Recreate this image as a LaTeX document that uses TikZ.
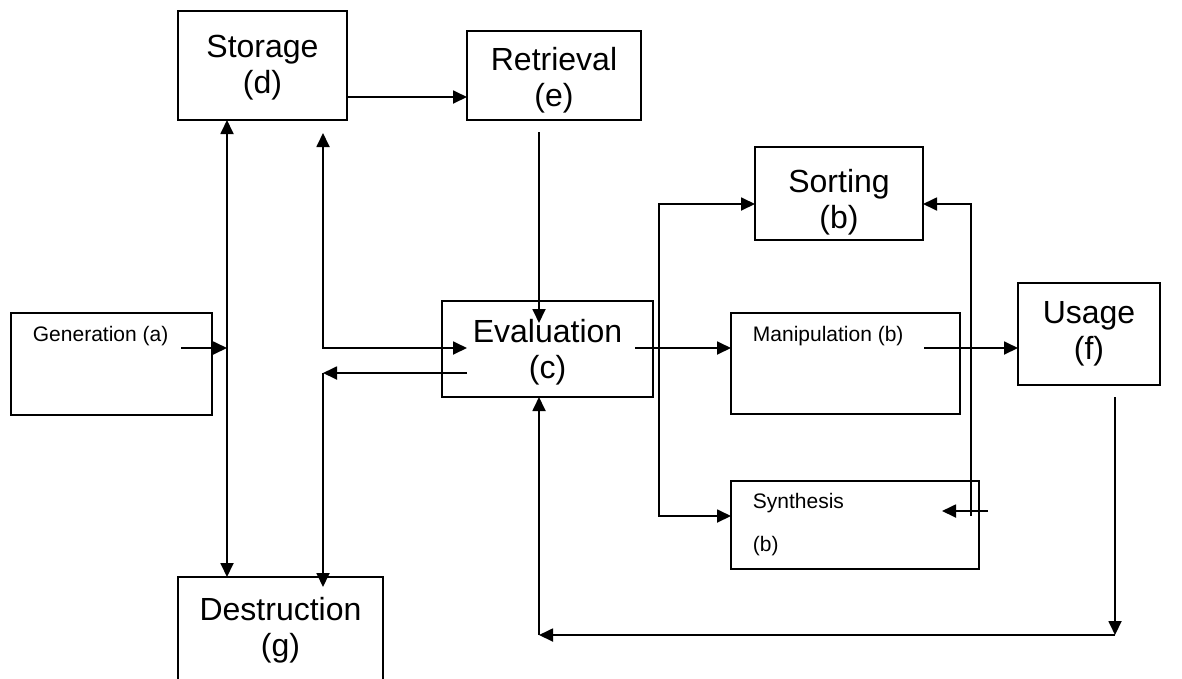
\documentclass[tikz,border=0pt]{standalone}
\usepackage{fontspec}
\setmainfont{Liberation Sans}
\usetikzlibrary{arrows.meta}
\begin{document}
\begin{tikzpicture}[x=1pt,y=-1pt,
  line width=1.8pt,
  box/.style={draw, line width=1.8pt, inner sep=0pt, outer sep=0pt, align=center,
    font=\fontsize{32}{36}\selectfont},
  small/.style={inner sep=0pt, anchor=west, font=\fontsize{21}{25}\selectfont},
  arr/.style={-{Triangle[length=14pt,width=13pt]}},
  arrb/.style={{Triangle[length=14pt,width=13pt]}-{Triangle[length=14pt,width=13pt]}},
]
\useasboundingbox (0,0) rectangle (1182,678);
\clip (0,0) rectangle (1182,678);

% boxes
\node[box, minimum width=169pt, minimum height=109pt, text height=63.5pt] (stor)  at (262.5,65.5) {Storage\\(d)};
\node[box, minimum width=174pt, minimum height=89pt, text height=68.5pt]  (retr)  at (554,75.5)   {Retrieval\\(e)};
\node[box, minimum width=168pt, minimum height=93pt, text height=77pt]  (sort)  at (839,193.5)  {Sorting\\(b)};
\node[box, minimum width=201pt, minimum height=102pt] (gen)   at (111.5,364)  {};
\node[box, minimum width=211pt, minimum height=96pt, text height=66pt]  (eval)  at (547.5,349)  {Evaluation\\(c)};
\node[box, minimum width=229pt, minimum height=101pt] (manip) at (845.5,363.5) {};
\node[box, minimum width=142pt, minimum height=102pt] (usage) at (1089,334)   {Usage\\(f)};
\node[box, minimum width=248pt, minimum height=88pt]  (synth) at (855,525)    {};
\node[box, minimum width=205pt, minimum height=110pt, text height=56pt] (dest)  at (280.5,632)  {Destruction\\(g)};

% small texts
\node[small] (genT) at (32,336)  {Generation (a)};
\node[small] (manT) at (752,336) {Manipulation (b)};
\node[small] (synT) at (752,503) {Synthesis};
\node[small] (synB) at (752,546) {(b)};

% lanes and levels
\coordinate (LA) at (227,0);
\coordinate (LB) at (323,0);
\coordinate (LC) at (539,0);
\coordinate (LD) at (659,0);
\coordinate (LE) at (971,0);
\coordinate (LF) at (1115,0);
\coordinate (HA) at (0,97);
\coordinate (HB) at (0,348);
\coordinate (HC) at (0,373);
\coordinate (HD) at (0,204);
\coordinate (HE) at (0,516);
\coordinate (HF) at (0,511);
\coordinate (HG) at (0,635);

% connectors
\draw[arr] (stor.east |- HA) -- (retr.west |- HA);
\draw[arrb] (stor.south -| LA) -- (dest.north -| LA);
\draw[arr] ([xshift=12pt]genT.east |- HB) -- (LA |- HB);
\draw[arrb] ([yshift=-13pt]stor.south -| LB) -- (LB |- HB) -- ([xshift=25pt]eval.west |- HB);
\draw[arr] ([xshift=25pt]eval.west |- HC) -- (LB |- HC);
\draw[arr] (LB |- HC) -- ([yshift=-10pt]dest.north -| LB);
\draw[arr] ([yshift=-12pt]retr.south -| LC) -- ([yshift=-22pt]eval.north -| LC);
\draw[arr] ([xshift=-18pt]eval.east |- HB) -- (manip.west |- HB);
\draw[arr] ([xshift=20pt]manT.east |- HB) -- (usage.west |- HB);
\draw[arrb] (sort.west |- HD) -- (LD |- HD) -- (LD |- HE) -- (synth.west |- HE);
\draw[arr] (LE |- HE) -- (LE |- HD) -- (sort.east |- HD);
\draw[arr] ([xshift=9pt]synth.east |- HF) -- ([xshift=-37pt]synth.east |- HF);
\draw[arr] ([yshift=-12pt]usage.south -| LF) -- (LF |- HG);
\draw[arr] (LF |- HG) -- (LC |- HG);
\draw[arr] (LC |- HG) -- (eval.south -| LC);
\end{tikzpicture}
\end{document}
